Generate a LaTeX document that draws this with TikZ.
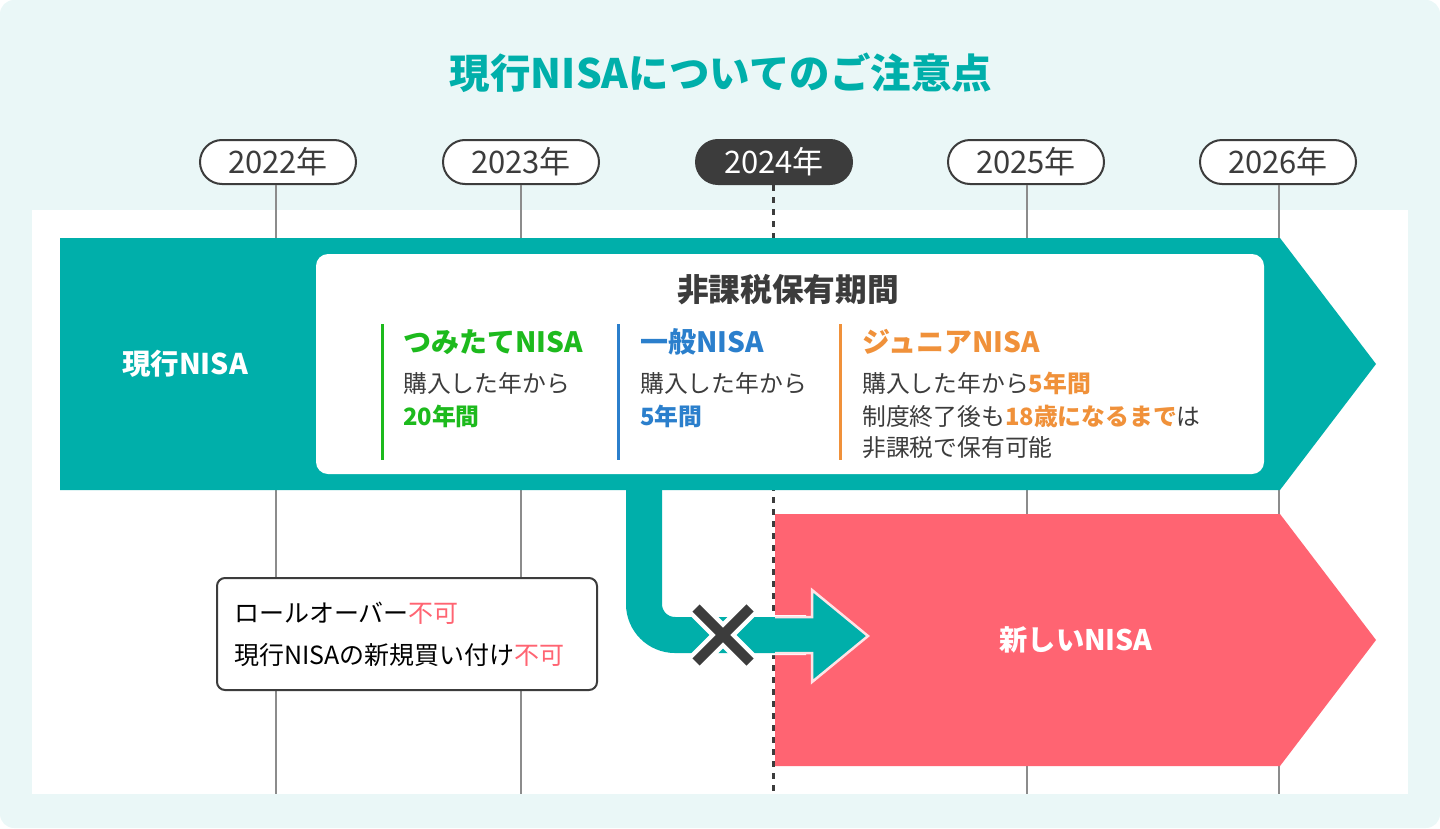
\documentclass[tikz,border=0pt]{standalone}
\usepackage{fontspec}
\setmainfont{Noto Sans CJK JP}
\definecolor{bgc}{HTML}{EAF7F7}
\definecolor{tealc}{HTML}{00AFAA}
\definecolor{pinkc}{HTML}{FF6472}
\definecolor{darkc}{HTML}{3C3C3C}
\definecolor{grayc}{HTML}{8C8C8C}
\definecolor{greenc}{HTML}{1DBA1D}
\definecolor{bluec}{HTML}{2B7FCC}
\definecolor{orangec}{HTML}{F0913A}
\definecolor{outlc}{HTML}{FFE3E6}
\newcommand{\fsz}[1]{\fontsize{#1bp}{#1bp}\selectfont}
\begin{document}
\begin{tikzpicture}[x=1bp,y=-1bp,
  pill/.style={draw=darkc, line width=2bp, fill=white, rounded corners=22bp,
    minimum width=156bp, minimum height=44bp, inner sep=0pt, text=darkc, font=\fsz{31}},
  pillon/.style={pill, fill=darkc, text=white},
  vline/.style={grayc, line width=1.6bp},
  dline/.style={darkc, line width=3bp, dash pattern=on 6bp off 6bp},
  txt/.style={anchor=west, inner sep=0pt, text=darkc, font=\fsz{23.8}},
  hd/.style={anchor=west, inner sep=0pt, font=\fsz{28}\bfseries},
  colline/.style={line width=3bp}
]
\useasboundingbox (0,0) rectangle (1440,828);
\fill[bgc, rounded corners=14bp] (0,0) rectangle (1440,828);
\fill[white] (32,210) rectangle (1408,794);

% title
\node[inner sep=0pt, text=tealc, font=\fsz{40.5}\bfseries] (title) at (721,73) {現行NISAについてのご注意点};

% year pills
\node[pill] (y22) at (278,162) {2022年};
\node[pill] (y23) at (521,162) {2023年};
\node[pillon] (y24) at (774,162) {2024年};
\node[pill] (y25) at (1026,162) {2025年};
\node[pill] (y26) at (1278,162) {2026年};
\coordinate (b22) at (276,794);
\coordinate (b23) at (521,794);
\coordinate (b24) at (773,794);
\coordinate (b25) at (1027,794);
\coordinate (b26) at (1279,794);
\draw[vline] (y22.south -| b22) -- (b22);
\draw[vline] (y23.south -| b23) -- (b23);
\draw[dline] (y24.south -| b24) -- (b24);
\draw[vline] (y25.south -| b25) -- (b25);
\draw[vline] (y26.south -| b26) -- (b26);

% current NISA arrow
\fill[tealc] (60,238) -- (1280,238) -- (1376,364) -- (1280,490) -- (60,490) -- cycle;
\node[inner sep=0pt, text=white, font=\fsz{28.5}\bfseries] (cur) at (185,364) {現行NISA};

% white info box
\fill[white, rounded corners=12bp] (316,254) rectangle (1264,474);
\node[inner sep=0pt, text=darkc, font=\fsz{31.7}\bfseries] (hdr) at (788,290) {非課税保有期間};

\draw[colline, greenc] (382,324) -- (382,460);
\node[hd, text=greenc] (t1) at (403,342) {つみたてNISA};
\node[txt] (t1a) at (403,383) {購入した年から};
\node[txt, text=greenc, font=\fsz{23.8}\bfseries] (t1b) at (403,416) {20年間};

\draw[colline, bluec] (618,324) -- (618,460);
\node[hd, text=bluec] (t2) at (640,342) {一般NISA};
\node[txt] (t2a) at (640,383) {購入した年から};
\node[txt, text=bluec, font=\fsz{23.8}\bfseries] (t2b) at (640,416) {5年間};

\draw[colline, orangec] (840,324) -- (840,460);
\node[hd, text=orangec] (t3) at (862,342) {ジュニアNISA};
\node[txt] (t3a) at (862,383) {購入した年から{\color{orangec}\bfseries 5年間}};
\node[txt] (t3b) at (862,416) {制度終了後も{\color{orangec}\bfseries 18歳になるまで}は};
\node[txt] (t3c) at (862,448) {非課税で保有可能};

% new NISA arrow
\fill[pinkc] (775,514) -- (1280,514) -- (1376,640) -- (1280,766) -- (775,766) -- cycle;
\node[inner sep=0pt, text=white, font=\fsz{28.3}\bfseries] (new) at (1076,640) {新しいNISA};

% L connector
\coordinate (cs) at (644,490);
\coordinate (cc) at (644,635);
\coordinate (ce) at (806,635);
\draw[white, line width=40bp, rounded corners=29bp] (644,496) -- (cc) -- (ce);
\draw[tealc, line width=36bp, rounded corners=31bp] (cs) -- (cc) -- (ce);
\fill[tealc] (800,617) -- (812,617) -- (812,590) -- (868,636) -- (812,682) -- (812,653) -- (800,653) -- cycle;
\draw[outlc, line width=2.5bp, line join=miter] (775,617) -- (812,617) -- (812,590) -- (868,636) -- (812,682) -- (812,653) -- (775,653);

% X mark
\coordinate (xc) at (723,635);
\draw[white, line width=19bp, line cap=round] ([shift={(-29,-29)}]xc) -- ([shift={(29,29)}]xc);
\draw[white, line width=19bp, line cap=round] ([shift={(29,-29)}]xc) -- ([shift={(-29,29)}]xc);
\draw[darkc, line width=10bp] ([shift={(-27,-27)}]xc) -- ([shift={(27,27)}]xc);
\draw[darkc, line width=10bp] ([shift={(27,-27)}]xc) -- ([shift={(-27,27)}]xc);

% rollover box
\draw[darkc, line width=2bp, fill=white, rounded corners=8bp] (217,578) rectangle (597,690);
\node[txt, text=black, font=\fsz{25}] (r1) at (234,613) {ロールオーバー{\color{pinkc}不可}};
\node[txt, text=black, font=\fsz{25}] (r2) at (234,655) {現行NISAの新規買い付け{\color{pinkc}不可}};
\end{tikzpicture}
\end{document}
